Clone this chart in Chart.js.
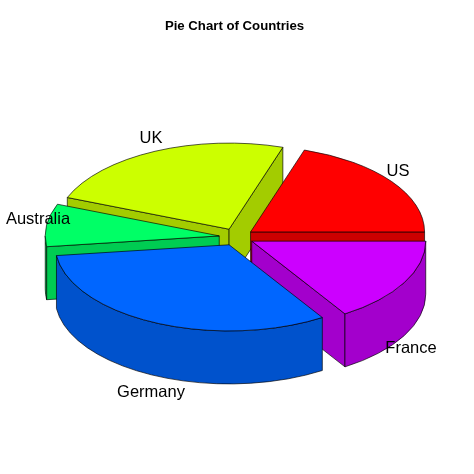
<!DOCTYPE html>
<html>
<head>
<meta charset="utf-8">
<title>Pie Chart of Countries</title>
<script src="https://cdn.jsdelivr.net/npm/chart.js@4"></script>
<style>
    html, body { margin: 0; padding: 0; background: #ffffff; }
    canvas { display: block; }
</style>
</head>
<body>
<canvas id="pieChart" width="474" height="474"></canvas>
<script>
// listed clockwise from 3 o'clock, the way Chart.js walks round the pie
const categories = ["France", "Germany", "Australia", "UK", "US"];
const slices = [8, 16, 4, 12, 10];
const topColors = ["#CC00FF", "#0066FF", "#00FF66", "#CCFF00", "#FF0000"];
const sideColors = ["#A300CC", "#0052CC", "#00CC52", "#A3CC00", "#CC0000"];

const labelFont = "16.5px 'Liberation Sans', Arial, sans-serif";
const labelAnchors = [[411, 348], [151, 392], [38, 219], [151, 138], [398, 171]];

const squash = 0.495;    // flattening of the circle into the tilted disc
const depth = 53;        // thickness of the disc
const explode = 17.4;    // how far each slice is pulled out
const shiftX = 2;        // title sits a little left of the pie centre

function sliceGeometry(arc) {
    const mid = (arc.startAngle + arc.endAngle) / 2;
    return {
        x: arc.x + shiftX + Math.cos(mid) * explode,
        y: arc.y + Math.sin(mid) * explode * squash,
        rx: arc.outerRadius,
        ry: arc.outerRadius * squash,
        mid: mid
    };
}

function strokeAndFill(ctx, fill) {
    ctx.fillStyle = fill;
    ctx.fill();
    ctx.stroke();
}

function drawFace(ctx, g, angle, fill) {
    const px = g.x + Math.cos(angle) * g.rx;
    const py = g.y + Math.sin(angle) * g.ry;
    ctx.beginPath();
    ctx.moveTo(g.x, g.y);
    ctx.lineTo(px, py);
    ctx.lineTo(px, py + depth);
    ctx.lineTo(g.x, g.y + depth);
    ctx.closePath();
    strokeAndFill(ctx, fill);
}

function drawSlice(ctx, arc, sideColor) {
    const g = sliceGeometry(arc);
    const a0 = arc.startAngle;
    const a1 = arc.endAngle;

    // cut faces, only the ones turned towards the viewer
    if (Math.cos(a0) < -1e-6) drawFace(ctx, g, a0, sideColor);
    if (Math.cos(a1) > 1e-6) drawFace(ctx, g, a1, sideColor);

    // outer wall, the part of the rim on the front half of the disc
    const from = Math.max(a0, 0);
    const to = Math.min(a1, Math.PI);
    if (to > from) {
        ctx.beginPath();
        ctx.ellipse(g.x, g.y, g.rx, g.ry, 0, from, to);
        ctx.ellipse(g.x, g.y + depth, g.rx, g.ry, 0, to, from, true);
        ctx.closePath();
        strokeAndFill(ctx, sideColor);
    }

    // top of the slice
    ctx.beginPath();
    ctx.moveTo(g.x, g.y);
    ctx.ellipse(g.x, g.y, g.rx, g.ry, 0, a0, a1);
    ctx.closePath();
    strokeAndFill(ctx, arc.options.backgroundColor);
}

const pie3D = {
    id: "pie3D",
    beforeDatasetDraw(chart, args) {
        const ctx = chart.ctx;
        const arcs = args.meta.data;
        // paint from the back of the disc to the front
        const order = arcs.map((arc, i) => i).sort((a, b) =>
            Math.sin(sliceGeometry(arcs[a]).mid) - Math.sin(sliceGeometry(arcs[b]).mid));

        ctx.save();
        ctx.lineWidth = 1;
        ctx.strokeStyle = "rgba(0, 0, 0, 0.65)";
        ctx.lineJoin = "round";
        order.forEach(i => drawSlice(ctx, arcs[i], sideColors[i]));

        ctx.fillStyle = "#000000";
        ctx.font = labelFont;
        ctx.textAlign = "center";
        ctx.textBaseline = "middle";
        categories.forEach((name, i) => ctx.fillText(name, labelAnchors[i][0], labelAnchors[i][1]));
        ctx.restore();
        return false;
    }
};

document.addEventListener("DOMContentLoaded", function () {
    new Chart(document.getElementById("pieChart").getContext("2d"), {
        type: "pie",
        data: {
            labels: categories,
            datasets: [{
                data: slices,
                backgroundColor: topColors
            }]
        },
        options: {
            responsive: false,
            animation: false,
            rotation: 90,
            radius: 174,
            layout: { padding: { top: 0, left: 0, right: 5, bottom: 33.84 } },
            plugins: {
                legend: { display: false },
                tooltip: { enabled: false },
                title: {
                    display: true,
                    text: "Pie Chart of Countries",
                    color: "#000000",
                    font: { family: "'Liberation Sans', Arial, sans-serif", size: 13.2, weight: "bold", lineHeight: 1.2 },
                    padding: { top: 18, bottom: 0 }
                }
            }
        },
        plugins: [pie3D]
    });
});
</script>
</body>
</html>
